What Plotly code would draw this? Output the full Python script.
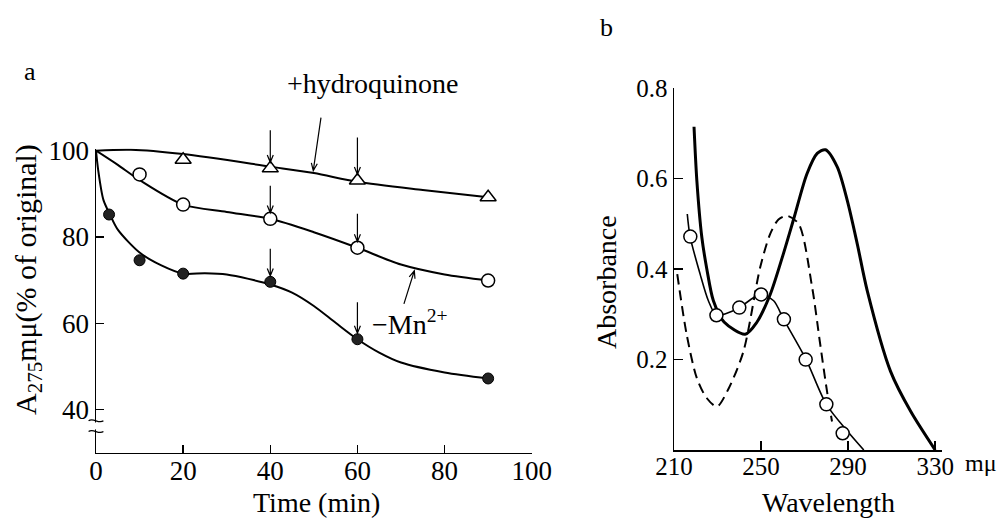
import math
import plotly.graph_objects as go

# ---------------- Panel a data (A275 mμ, % of original vs time) ----------------
hq_time = [20, 40, 60, 90]
hq_vals = [97.9, 95.9, 93.1, 89.2]
ctrl_time = [10, 20, 40, 60, 90]
ctrl_vals = [94.5, 87.5, 84.2, 77.5, 69.9]
mn_time = [3, 10, 20, 40, 60, 90]
mn_vals = [85.2, 74.6, 71.5, 69.6, 56.3, 47.2]

# hand-drawn fitted curves
hq_curve_t = [0, 8, 20, 40, 50, 60, 75, 90]
hq_curve_v = [100, 100.2, 99.2, 96.3, 94.8, 92.8, 90.9, 89.2]
ctrl_curve_t = [0, 5, 10, 20, 30, 40, 50, 60, 70, 80, 90]
ctrl_curve_v = [100, 96.7, 93.2, 87.5, 85.8, 84.2, 81.1, 77.5, 73.6, 71.3, 69.9]
mn_curve_t = [0, 0.5, 1.7, 3.2, 5, 10, 15, 20, 25, 30, 40, 45, 50, 55, 60, 65, 70, 80, 90]
mn_curve_v = [100, 95.5, 88.6, 85.2, 81.7, 76.4, 73.4, 71.5, 71.6, 71.3, 69.0, 67.1, 64.0,
              60.1, 56.3, 53.2, 50.9, 48.6, 47.2]

a_xticks = [0, 20, 40, 60, 80, 100]
a_yticks = [40, 60, 80, 100]

# ---------------- Panel b data (absorbance spectra) ----------------
circ_wl = [217.5, 229.5, 240, 250, 260.5, 270.5, 280, 287.5]
circ_abs = [0.472, 0.298, 0.315, 0.344, 0.289, 0.200, 0.101, 0.037]
circ_curve_wl = [216.1, 217.4, 222, 225.8, 229.4, 234, 240, 246, 250, 255.8, 260.4, 270.7,
                 280, 290.5, 297.2]
circ_curve_abs = [0.522, 0.472, 0.389, 0.33, 0.298, 0.302, 0.315, 0.335, 0.344, 0.33, 0.289,
                  0.2, 0.101, 0.037, 0.0]
thick_wl = [219.2, 220.5, 222.8, 225.1, 228.1, 233, 242.7, 248, 254.2, 260, 265, 271.1,
            275.8, 279.6, 285, 289.6, 294.2, 298.8, 309.5, 318.8, 330]
thick_abs = [0.715, 0.596, 0.47, 0.40, 0.33, 0.283, 0.256, 0.282, 0.344, 0.43, 0.511, 0.611,
             0.656, 0.664, 0.626, 0.552, 0.456, 0.352, 0.174, 0.085, 0.0]
dash_wl = [211.5, 215.8, 220.5, 225, 229.7, 235, 241.9, 249.6, 254.2, 258, 261.9, 267.3,
           273.5, 277, 280.3, 282.6]
dash_abs = [0.389, 0.256, 0.159, 0.115, 0.096, 0.135, 0.218, 0.404, 0.478, 0.51, 0.518, 0.5,
            0.359, 0.24, 0.13, 0.063]

b_xticks = [210, 250, 290, 330]
b_xticktext = ["210", "250", "290", "330"]
b_yticks = [0.2, 0.4, 0.6, 0.8]
b_yticktext = ["0.2", "0.4", "0.6", "0.8"]

SERIF = "Liberation Serif, Times New Roman, serif"
W, H = 999, 520

# panel a geometry (pixels) and ranges
A_X0, A_X1 = 96, 531.7
A_YT, A_YB = 148.5, 452.7
A_XR = [0, 100]
A_YR = [30, 100.5]

fig = go.Figure()

for t, v in [(hq_curve_t, hq_curve_v), (ctrl_curve_t, ctrl_curve_v), (mn_curve_t, mn_curve_v)]:
    fig.add_trace(go.Scatter(x=t, y=v, mode="lines",
                             line=dict(color="black", width=2, shape="spline", smoothing=0.8),
                             xaxis="x", yaxis="y", showlegend=False, hoverinfo="skip"))
fig.add_trace(go.Scatter(x=hq_time, y=hq_vals, mode="markers",
                         marker=dict(symbol="triangle-up", size=14, color="white",
                                     line=dict(color="black", width=1.5)),
                         xaxis="x", yaxis="y", showlegend=False))
fig.add_trace(go.Scatter(x=ctrl_time, y=ctrl_vals, mode="markers",
                         marker=dict(symbol="circle", size=13, color="white",
                                     line=dict(color="black", width=1.5)),
                         xaxis="x", yaxis="y", showlegend=False))
fig.add_trace(go.Scatter(x=mn_time, y=mn_vals, mode="markers",
                         marker=dict(symbol="circle", size=11, color="#222222",
                                     line=dict(color="black", width=1)),
                         xaxis="x", yaxis="y", showlegend=False))

fig.add_trace(go.Scatter(x=thick_wl, y=thick_abs, mode="lines",
                         line=dict(color="black", width=3, shape="spline", smoothing=0.8),
                         xaxis="x2", yaxis="y2", showlegend=False))
fig.add_trace(go.Scatter(x=dash_wl, y=dash_abs, mode="lines",
                         line=dict(color="black", width=2, dash="10px,6px", shape="spline", smoothing=0.8),
                         xaxis="x2", yaxis="y2", showlegend=False))
fig.add_trace(go.Scatter(x=circ_curve_wl, y=circ_curve_abs, mode="lines",
                         line=dict(color="black", width=1.6, shape="spline", smoothing=0.8),
                         xaxis="x2", yaxis="y2", showlegend=False))
fig.add_trace(go.Scatter(x=circ_wl, y=circ_abs, mode="markers",
                         marker=dict(symbol="circle", size=13, color="white",
                                     line=dict(color="black", width=1.5)),
                         xaxis="x2", yaxis="y2", showlegend=False))

axis_common = dict(showline=True, linecolor="black", linewidth=1.5, ticks="inside",
                   tickcolor="black", tickwidth=1.5, showgrid=False, zeroline=False,
                   automargin=False, fixedrange=True)

fig.update_layout(
    width=W, height=H, autosize=False,
    margin=dict(l=0, r=0, t=0, b=0, pad=0, autoexpand=False),
    paper_bgcolor="white", plot_bgcolor="white",
    font=dict(family=SERIF, color="black"),
    xaxis=dict(domain=[A_X0 / W, A_X1 / W], range=A_XR, tickvals=a_xticks, ticklen=8,
               anchor="y", ticklabelstandoff=-7,
               tickfont=dict(family=SERIF, size=27, color="black"), **axis_common),
    yaxis=dict(domain=[(H - A_YB) / H, (H - A_YT) / H], range=A_YR, tickvals=a_yticks,
               ticklen=8, anchor="x",
               tickfont=dict(family=SERIF, size=27, color="black"), **axis_common),
    xaxis2=dict(domain=[674 / W, 941.7 / W], range=[210, 333], tickvals=b_xticks,
                ticktext=b_xticktext, ticklen=9, anchor="y2", ticklabelstandoff=-7,
                tickfont=dict(family=SERIF, size=25, color="black"), **axis_common),
    yaxis2=dict(domain=[(H - 450) / H, (H - 88.3) / H], range=[0, 0.8], tickvals=b_yticks,
                ticktext=b_yticktext, ticklen=9, anchor="x2",
                tickfont=dict(family=SERIF, size=25, color="black"), **axis_common),
)

ann = []
def paper(px, py):
    return px / W, 1 - py / H

def txt(px, py, text, size, angle=0):
    x, y = paper(px, py)
    ann.append(dict(x=x, y=y, xref="paper", yref="paper", text=text, showarrow=False,
                    font=dict(family=SERIF, size=size, color="black"), textangle=angle,
                    xanchor="center", yanchor="middle"))

txt(30, 72, "a", 26)
txt(606, 27, "b", 26)
txt(28, 280, "A<sub>275</sub>mμ(% of original)", 30, -90)
txt(316, 502, "Time (min)", 28)
txt(606, 282, "Absorbance", 28, -90)
txt(828, 502, "Wavelength", 28)
txt(981, 463, "mμ", 24)
txt(372, 83, "+hydroquinone", 28)
ann.append(dict(x=72, y=60.2, xref="x", yref="y", text="−Mn<sup>2+</sup>", showarrow=False,
                font=dict(family=SERIF, size=28, color="black")))
fig.update_layout(annotations=ann)

# ---- arrows drawn as shapes in panel a's domain coordinates ----
DW = A_X1 - A_X0
DH = A_YB - A_YT

def dom_px(x, y):
    """data -> pixel offsets from the bottom-left of panel a's domain (y up)."""
    px = (x - A_XR[0]) / (A_XR[1] - A_XR[0]) * DW
    py = (y - A_YR[0]) / (A_YR[1] - A_YR[0]) * DH
    return px, py

def arrow_shape(x, y, ax, ay, standoff, head=8, ang=22):
    """tail offset (ax, ay) in screen pixels (ay negative = above) from the data point."""
    px, py = dom_px(x, y)
    dx, dy = ax, -ay                      # direction from point to tail, y up
    L = math.hypot(dx, dy)
    ux, uy = dx / L, dy / L
    tipx, tipy = px + ux * standoff, py + uy * standoff
    tailx, taily = px + dx, py + dy
    pts = []
    for s in (1, -1):
        a = math.radians(ang) * s
        hx = ux * math.cos(a) - uy * math.sin(a)
        hy = ux * math.sin(a) + uy * math.cos(a)
        pts.append((tipx + hx * head, tipy + hy * head))
    f = lambda qx, qy: f"{qx / DW:.5f},{qy / DH:.5f}"
    path = (f"M {f(tailx, taily)} L {f(tipx, tipy)} "
            f"M {f(*pts[0])} L {f(tipx, tipy)} L {f(*pts[1])}")
    return dict(type="path", xref="x domain", yref="y domain", layer="above", path=path,
                line=dict(color="black", width=1.2))

shapes = []
for times, vals, lens in [(hq_time, hq_vals, (-38, -43)), (ctrl_time, ctrl_vals, (-33, -34)),
                          (mn_time, mn_vals, (-33, -37))]:
    for t, L in zip((40, 60), lens):
        v = vals[times.index(t)]
        shapes.append(arrow_shape(t, v, 0, L, 6))
shapes.append(arrow_shape(49.8, 94.9, 8, -55, 2))
shapes.append(arrow_shape(73.2, 72.6, -11, 35, 2))

# axis break on panel a's y axis
def yd(v):
    return (v - A_YR[0]) / (A_YR[1] - A_YR[0])
shapes.append(dict(type="rect", xref="x domain", yref="y domain", x0=-0.006, x1=0.006,
                   y0=yd(35.4), y1=yd(37.0), fillcolor="white", line=dict(width=0), layer="above"))
for v in (37.4, 34.9):
    y0 = yd(v)
    h = 0.012
    shapes.append(dict(type="path", xref="x domain", yref="y domain", layer="above",
                       path=f"M -0.017,{y0} C -0.006,{y0 + h} 0.006,{y0 - h} 0.017,{y0}",
                       line=dict(color="black", width=1.3)))
fig.update_layout(shapes=shapes)

fig.write_html("out.html", config={"displayModeBar": False, "staticPlot": True},
               post_script="document.body.style.margin='0';document.body.style.overflow='hidden';")
